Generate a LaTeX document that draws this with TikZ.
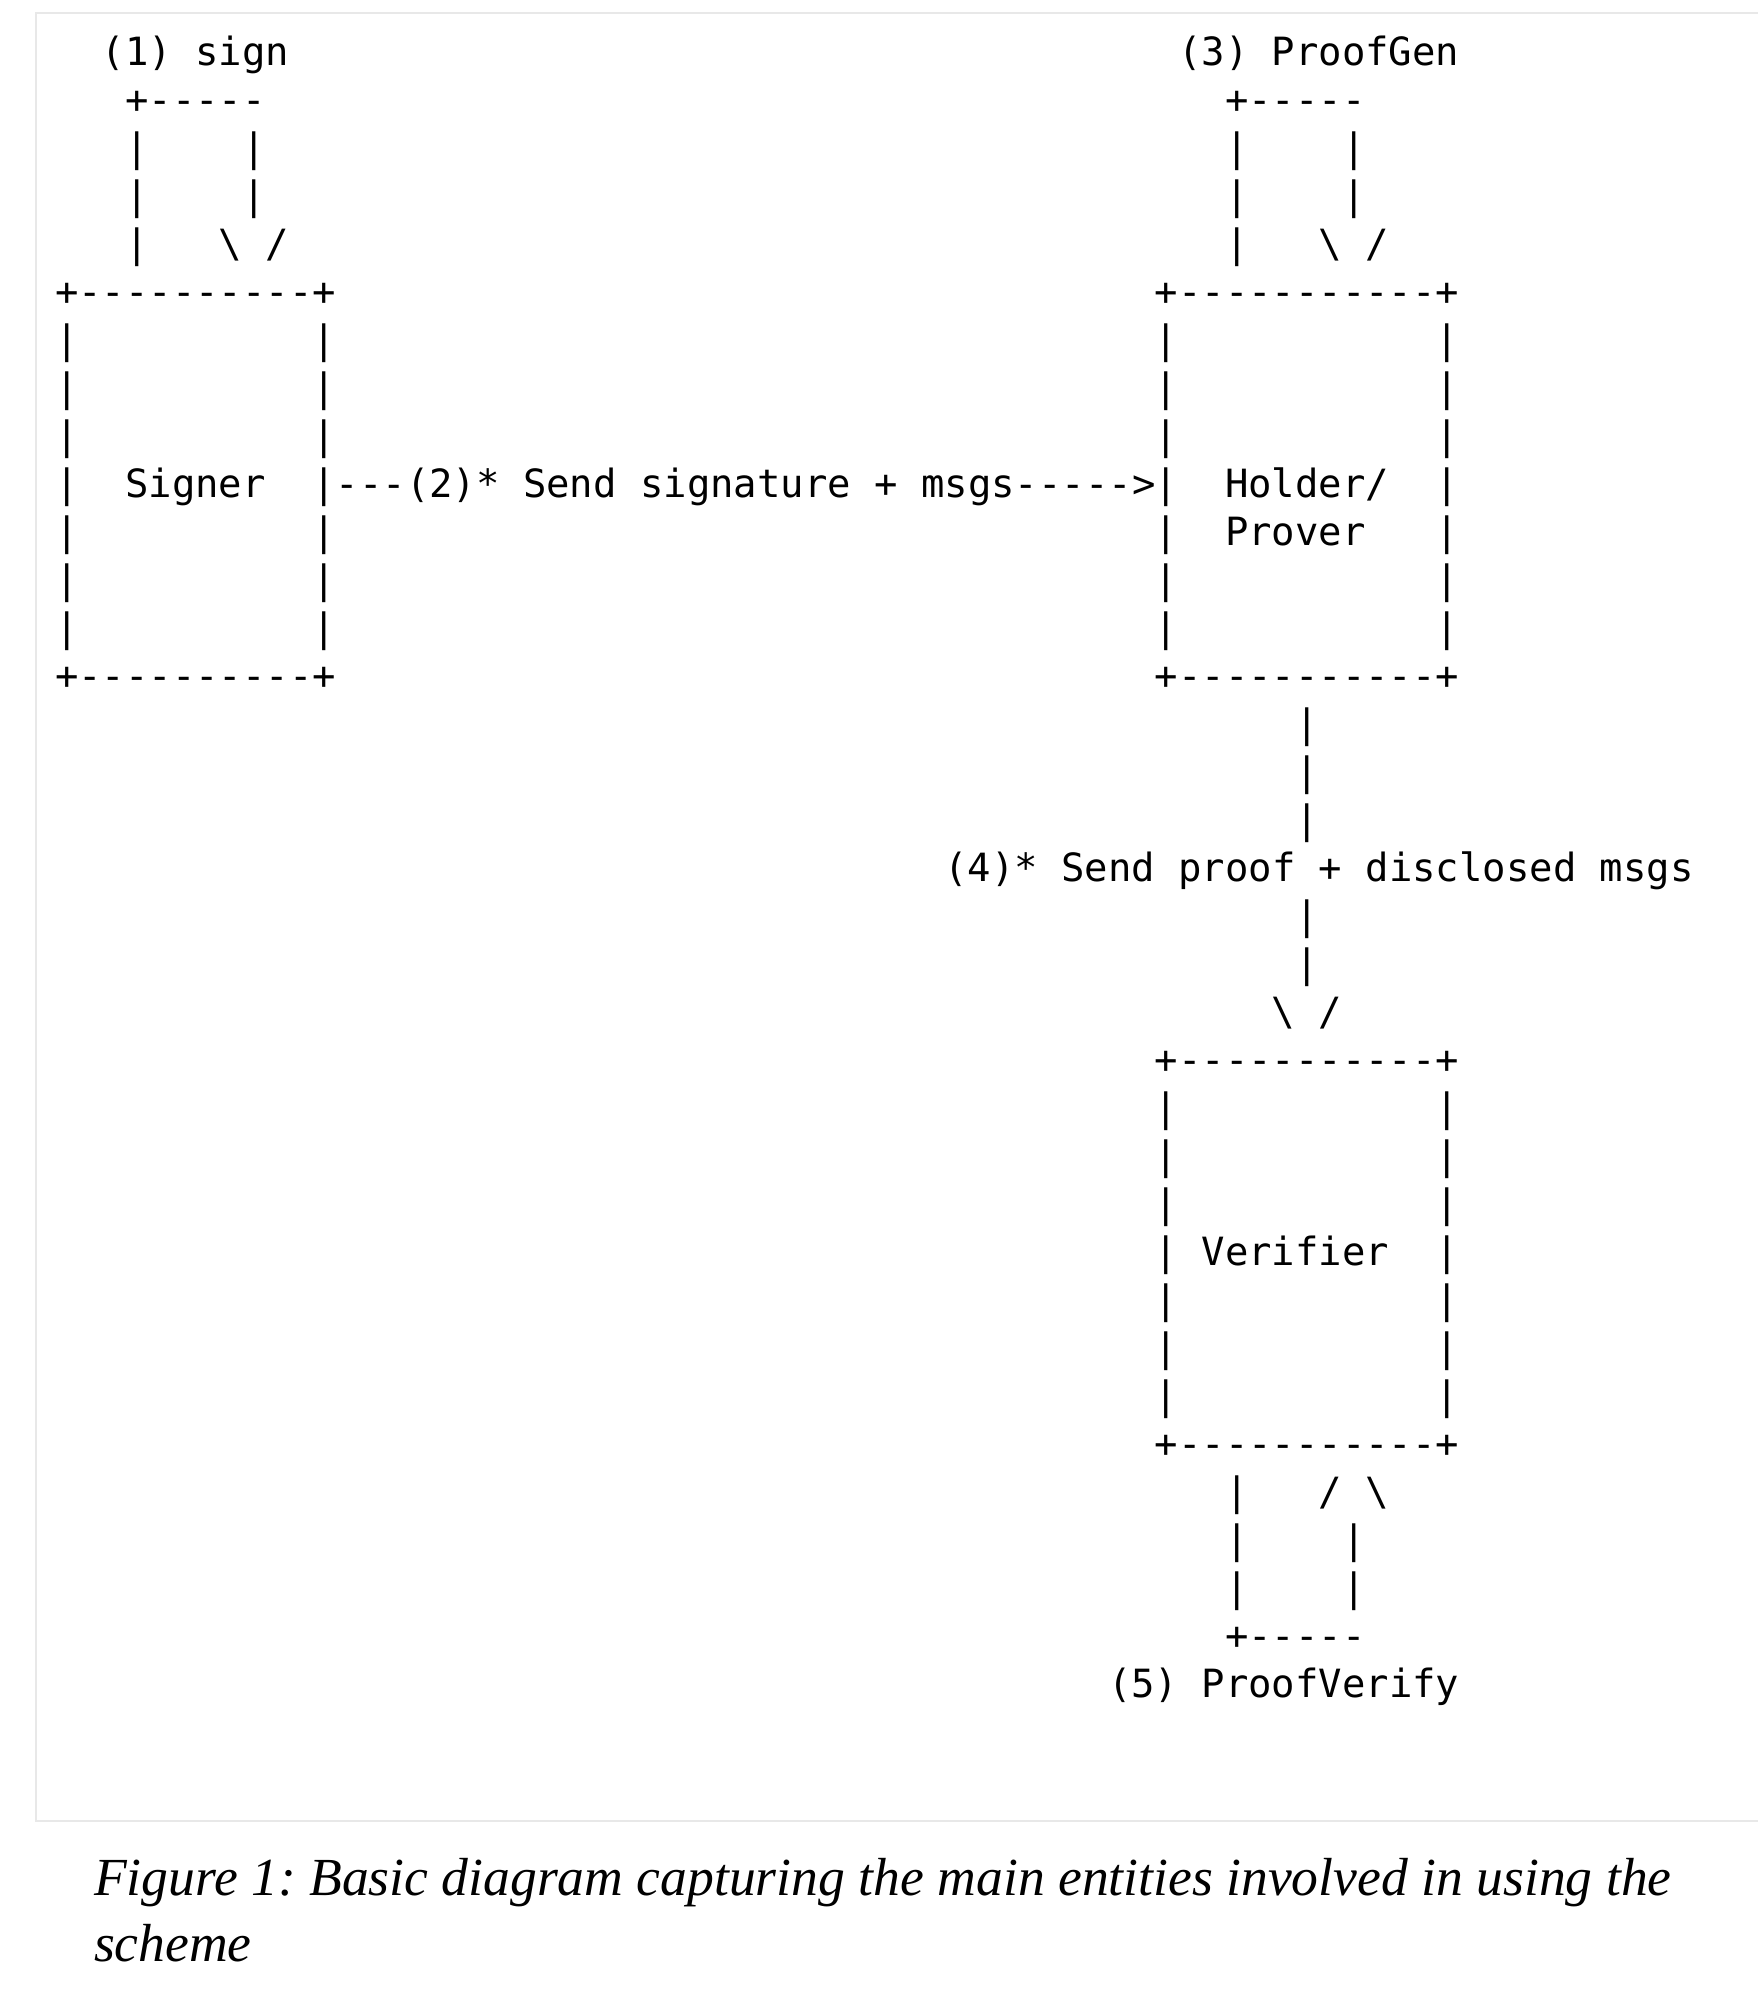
\documentclass[tikz,border=0pt]{standalone}
\usepackage{fontspec}
\setmonofont{DejaVu Sans Mono}
\newfontfamily\captionfont{Liberation Serif}
\usetikzlibrary{positioning}

\definecolor{framegray}{HTML}{E8E8E8}
\newcommand\asgap[1]{\hskip#1\fontdimen2\font\relax}

\begin{document}
\frenchspacing
\begin{tikzpicture} [
    x=0.5pt, y=-0.5pt,
    asc/.style={font=\ttfamily\fontsize{19.45pt}{24pt}\selectfont, anchor=base west, inner sep=0pt, outer sep=0pt},
    caption/.style={font=\captionfont\itshape\fontsize{26.8pt}{33pt}\selectfont, anchor=base west, inner sep=0pt}
]
\useasboundingbox (0,0) rectangle (1758,2010);

% frame of the listing
\draw[framegray, line width=1pt] (1758,12.7) -| (36,1821) -- (1758,1821);

% ascii grid: one unit = one character cell
\begin{scope}[shift={(55,65)}, x=11.7pt, y=-24pt]

% Signer with its sign loop
\node[asc] (signlbl) at (2,0) {(1) sign};
\node[asc] (signtop) at (3,1) {+-----};
\foreach \r in {2,3}
    \node[asc] (signloop\r) at (3,\r) {|\asgap{4}|};
\node[asc] (signhead) at (3,4) {|\asgap{3}\textbackslash\ /};
\node[asc] (signerup) at (0,5) {+----------+};
\foreach \r in {6,7,8,10,11,12}
    \node[asc] (signside\r) at (0,\r) {|\asgap{10}|};
\node[asc] (signer) at (0,9) {|\asgap{2}Signer\asgap{2}|};
\node[asc] (signerdn) at (0,13) {+----------+};

% step 2
\node[asc] (sendsig) at (12,9) {---(2)* Send signature + msgs----->};

% Holder/Prover with its proof loop
\node[asc] (genlbl) at (48,0) {(3) ProofGen};
\node[asc] (gentop) at (50,1) {+-----};
\foreach \r in {2,3}
    \node[asc] (genloop\r) at (50,\r) {|\asgap{4}|};
\node[asc] (genhead) at (50,4) {|\asgap{3}\textbackslash\ /};
\node[asc] (holderup) at (47,5) {+-----------+};
\foreach \r in {6,7,8,11,12}
    \node[asc] (holderside\r) at (47,\r) {|\asgap{11}|};
\node[asc] (holder) at (47,9) {|\asgap{2}Holder/\asgap{2}|};
\node[asc] (prover) at (47,10) {|\asgap{2}Prover\asgap{3}|};
\node[asc] (holderdn) at (47,13) {+-----------+};

% step 4
\foreach \r in {14,15,16,18,19}
    \node[asc] (sendstem\r) at (53,\r) {|};
\node[asc] (sendproof) at (38,17) {(4)* Send proof + disclosed msgs};
\node[asc] (sendhead) at (52,20) {\textbackslash\ /};

% Verifier with its verify loop
\node[asc] (verifierup) at (47,21) {+-----------+};
\foreach \r in {22,23,24,26,27,28}
    \node[asc] (verifierside\r) at (47,\r) {|\asgap{11}|};
\node[asc] (verifier) at (47,25) {|\asgap{1}Verifier\asgap{2}|};
\node[asc] (verifierdn) at (47,29) {+-----------+};
\node[asc] (verhead) at (50,30) {|\asgap{3}/\ \textbackslash};
\foreach \r in {31,32}
    \node[asc] (verloop\r) at (50,\r) {|\asgap{4}|};
\node[asc] (verbot) at (50,33) {+-----};
\node[asc] (verlbl) at (45,34) {(5) ProofVerify};

\end{scope}

% caption
\node[caption] (cap1) at (93.6,1895) {Figure 1: Basic diagram capturing the main entities involved in using the};
\node[caption] (cap2) at (93.6,1961.7) {scheme};

\end{tikzpicture}
\end{document}
